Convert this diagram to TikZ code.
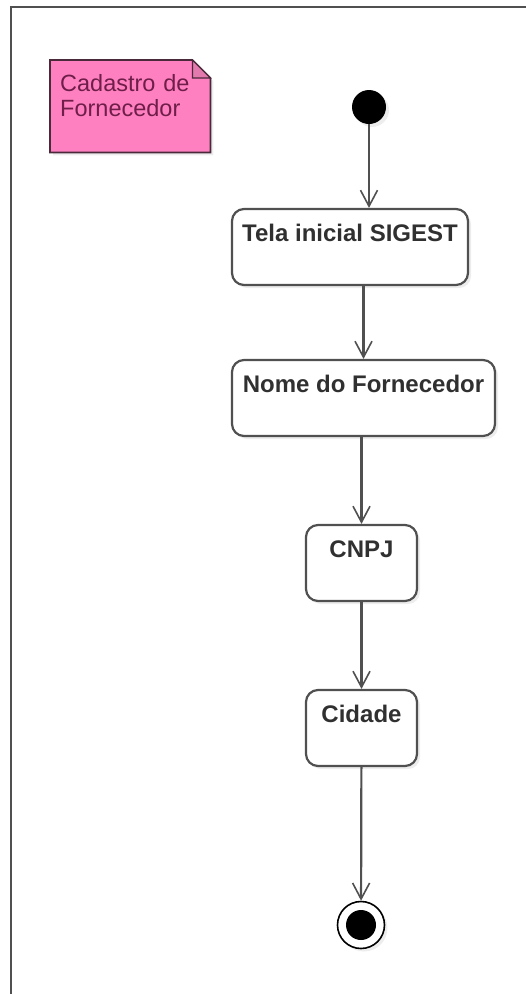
\documentclass[tikz,border=0pt]{standalone}
\usepackage{fontspec}
\setmainfont{Liberation Sans}
\usetikzlibrary{arrows.meta, positioning, shadows, backgrounds}
\definecolor{notefill}{HTML}{FF80C0}
\definecolor{notefold}{HTML}{E37AAE}
\definecolor{notetext}{HTML}{6E1E48}
\definecolor{noteline}{HTML}{4A2A3A}
\definecolor{lineclr}{HTML}{505050}
\definecolor{txtclr}{HTML}{303030}

\begin{document}
\begin{tikzpicture}[
    x=1pt, y=-1pt,
    softshadow/.style={drop shadow={shadow xshift=3pt, shadow yshift=-3pt, fill=black, opacity=0.07}},
    state/.style={rectangle, draw=lineclr, line width=2.2pt, rounded corners=12pt, fill=white, softshadow,
        inner xsep=0pt, inner ysep=0pt, text height=32pt, text depth=44pt,
        font=\fontsize{24}{27}\selectfont\bfseries, text=txtclr},
    flow/.style={draw=lineclr, line width=2.2pt, -{Straight Barb[length=16pt, width=17pt, line width=1.6pt]}},
    >=stealth
]
\useasboundingbox (0,0) rectangle (526,994);
% frame
\draw[lineclr, line width=2.2pt] (11,994) -- (11,7) -- (526,7);

% note
\node[anchor=north west, text width=140pt, align=left, inner xsep=10pt, inner ysep=0pt,
      text height=31pt, text depth=61pt, text=notetext,
      font=\fontsize{23.5}{25}\selectfont] (note) at (50,60) {Cadastro de\\Fornecedor};
\begin{scope}[on background layer]
\path[fill=notefill, draw=noteline, line width=1.8pt, softshadow]
    (note.north west) -- ([xshift=-18pt]note.north east) -- ([yshift=-18pt]note.north east)
    -- (note.south east) -- (note.south west) -- cycle;
\path[fill=notefold, draw=noteline, line width=1.2pt]
    ([xshift=-18pt]note.north east) -- ([xshift=-18pt, yshift=-18pt]note.north east)
    -- ([yshift=-18pt]note.north east) -- cycle;
\end{scope}

% states
\node[circle, fill=black, minimum size=34pt, inner sep=0pt, softshadow] (init) at (369,107) {};
\node[state, minimum width=236pt] (tela) at (350,247) {Tela inicial SIGEST};
\node[state, minimum width=263pt] (nome) at (363.5,398) {Nome do Fornecedor};
\node[state, minimum width=111pt] (cnpj) at (361.5,563) {CNPJ};
\node[state, minimum width=111pt] (cidade) at (361.5,728) {Cidade};
\node[circle, draw=black, line width=1.6pt, fill=white, minimum size=47pt, inner sep=0pt, softshadow,
      path picture={\fill[black] (path picture bounding box.center) circle (15pt);}] (fim) at (361,925) {};

\draw[flow] (init) -- (init |- tela.north);
\draw[flow] (nome.north |- tela.south) -- (nome.north);
\draw[flow] (cnpj.north |- nome.south) -- (cnpj.north);
\draw[flow] (cnpj) -- (cidade);
\draw[flow] (cidade) -- (fim);
\end{tikzpicture}
\end{document}
